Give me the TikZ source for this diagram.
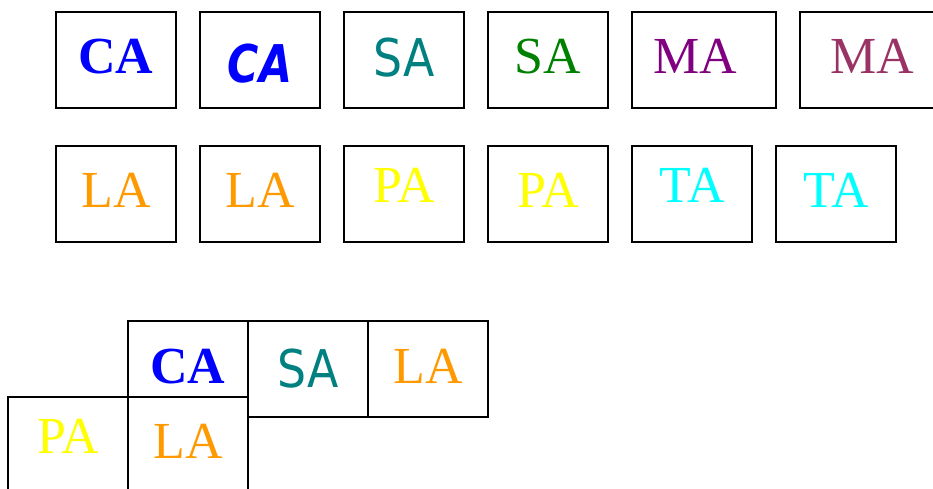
\documentclass[tikz,border=0pt]{standalone}
\usepackage{fontspec}
\setmainfont{Liberation Serif}
\newfontfamily\plainsans[FakeStretch=0.88]{DejaVu Sans}
\newfontfamily\handsans[FakeStretch=0.82]{DejaVu Sans}
\usetikzlibrary{positioning, calc}
\definecolor{cBlue}{RGB}{0,0,255}
\definecolor{cTeal}{RGB}{0,128,128}
\definecolor{cGreen}{RGB}{0,128,0}
\definecolor{cPurple}{RGB}{128,0,128}
\definecolor{cPlum}{RGB}{153,51,102}
\definecolor{cOrange}{RGB}{255,153,0}
\definecolor{cYellow}{RGB}{255,255,0}
\definecolor{cCyan}{RGB}{0,255,255}
\tikzset{
	cell/.style ={rectangle, draw=black, line width=1.5pt, minimum width=120pt, minimum height=96pt, inner sep=0pt, outer sep=0pt},
	wide/.style ={minimum width=144pt},
	low/.style  ={minimum height=76pt},
	lbl/.style  ={anchor=base, inner sep=0pt, font=\fontsize{52}{60}\selectfont},
}
\begin{document}
\begin{tikzpicture}[x=1pt, y=-1pt]
	\useasboundingbox (0,0) rectangle (933,488);
	% first row
	\node[cell] (ca1) at (116,60) {};
	\node[cell, right=24pt of ca1] (ca2) {};
	\node[cell, right=24pt of ca2] (sa1) {};
	\node[cell, right=24pt of sa1] (sa2) {};
	\node[cell, wide, right=24pt of sa2] (ma1) {};
	\node[cell, wide, right=24pt of ma1] (ma2) {};
	\node[lbl, text=cBlue] (tca1) at ($(ca1.north)+(0,61)$) {\bfseries CA};
	\node[lbl, text=cBlue] (tca2) at ($(ca2.north)+(0,70)$) {\handsans\bfseries\itshape CA};
	\node[lbl, text=cTeal] (tsa1) at ($(sa1.north)+(0,64)$) {\plainsans SA};
	\node[lbl, text=cGreen] (tsa2) at ($(sa2.north)+(0,61)$) {SA};
	\node[lbl, text=cPurple] (tma1) at ($(ma1.north)+(-9,61)$) {MA};
	\node[lbl, text=cPlum] (tma2) at ($(ma2.north)+(0,61)$) {MA};
	% second row
	\node[cell, below=38pt of ca1] (la1) {};
	\node[cell, right=24pt of la1] (la2) {};
	\node[cell, right=24pt of la2] (pa1) {};
	\node[cell, right=24pt of pa1] (pa2) {};
	\node[cell, right=24pt of pa2] (ta1) {};
	\node[cell, right=24pt of ta1] (ta2) {};
	\node[lbl, text=cOrange] (tla1) at ($(la1.north)+(0,61)$) {LA};
	\node[lbl, text=cOrange] (tla2) at ($(la2.north)+(0,61)$) {LA};
	\node[lbl, text=cYellow] (tpa1) at ($(pa1.north)+(0,56)$) {PA};
	\node[lbl, text=cYellow] (tpa2) at ($(pa2.north)+(0,61)$) {PA};
	\node[lbl, text=cCyan] (tta1) at ($(ta1.north)+(0,56)$) {TA};
	\node[lbl, text=cCyan] (tta2) at ($(ta2.north)+(0,61)$) {TA};
	% grid below
	\node[cell, low] (gca) at (188,359) {};
	\node[cell, anchor=north west] (gsa) at (gca.north east) {};
	\node[cell, anchor=north west] (gla) at (gsa.north east) {};
	\node[cell, anchor=north east] (gpa) at (gca.south west) {};
	\node[cell, below=0pt of gca] (glb) {};
	\node[lbl, text=cBlue] (tgca) at ($(gca.north)+(0,62)$) {\bfseries CA};
	\node[lbl, text=cTeal] (tgsa) at ($(gsa.north)+(0,66)$) {\plainsans SA};
	\node[lbl, text=cOrange] (tgla) at ($(gla.north)+(0,62)$) {LA};
	\node[lbl, text=cYellow] (tgpa) at ($(gpa.north)+(0,56)$) {PA};
	\node[lbl, text=cOrange] (tglb) at ($(glb.north)+(0,61)$) {LA};
\end{tikzpicture}
\end{document}
